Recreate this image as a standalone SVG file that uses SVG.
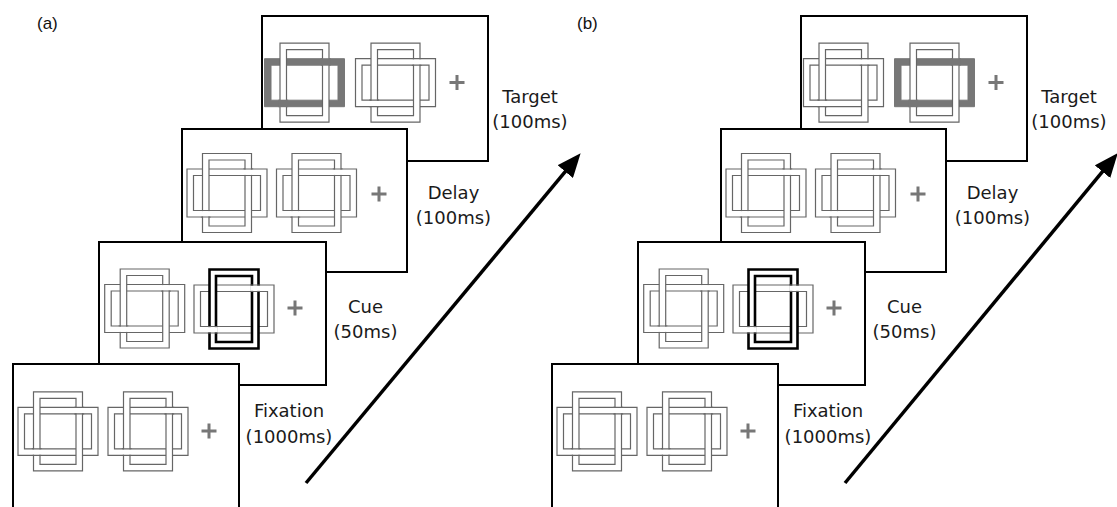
<svg xmlns="http://www.w3.org/2000/svg" xmlns:xlink="http://www.w3.org/1999/xlink" width="1117" height="507" viewBox="0 0 1117 507">
<style>
.frame{fill:#fff;stroke:#000;stroke-width:2}
.ring{fill:#fff;fill-rule:evenodd;stroke:#666;stroke-width:1.2}
.cring{fill:#fff;fill-rule:evenodd;stroke:#000;stroke-width:2.6}
.gring{fill:#777;fill-rule:evenodd;stroke:#777;stroke-width:1}
.ln{fill:none;stroke:#666;stroke-width:1.2}
.plus{fill:none;stroke:#777;stroke-width:3}
.lbl{font-family:"DejaVu Sans",sans-serif;font-size:18px;fill:#1a1a1a;text-anchor:middle}
.pl{font-family:"Liberation Sans",Arial,sans-serif;font-size:17px;fill:#111}
.arrow{stroke:#000;stroke-width:3.5;fill:none;marker-end:url(#ah)}
</style>
<defs>
<marker id="ah" viewBox="0 0 24 20" refX="11" refY="10" markerWidth="24" markerHeight="20" markerUnits="userSpaceOnUse" orient="auto">
<path d="M0,0L24,10L0,20Z" fill="#000"/>
</marker>
<path id="hb" d="M-40,-24H40V24H-40Z M-33.5,-17.5H33.5V17.5H-33.5Z"/>
<path id="vb" d="M-24.5,-39.5H24.5V39.5H-24.5Z M-18,-33H18V33H-18Z"/>
<g id="patch">
<rect x="16.3" y="-23.4" width="9.9" height="5.3" fill="#fff"/>
<rect x="-26.2" y="18.1" width="9.9" height="5.3" fill="#fff"/>
<path class="ln" d="M16.3,-24H26.2M16.3,-17.5H26.2M-26.2,17.5H-16.3M-26.2,24H-16.3"/>
</g>
<g id="cross">
<use xlink:href="#hb" class="ring"/>
<use xlink:href="#vb" class="ring"/>
<use xlink:href="#patch"/>
</g>
<g id="cueCross">
<use xlink:href="#hb" class="ring"/>
<use xlink:href="#vb" class="cring"/>
<use xlink:href="#patch"/>
</g>
<g id="tgtCross">
<use xlink:href="#hb" class="gring"/>
<use xlink:href="#vb" class="ring"/>
<rect x="16.3" y="-24.5" width="9.9" height="7.5" fill="#777"/>
<rect x="-26.2" y="17" width="9.9" height="7.5" fill="#777"/>
</g>
<path id="plus" class="plus" d="M-7.5,0H7.5M0,-7.5V7.5"/>
</defs>

<text class="pl" x="37" y="29">(a)</text>
<text class="pl" x="577" y="29">(b)</text>

<!-- Panel (a) -->
<g id="a-target">
<rect class="frame" x="262" y="16" width="226" height="145"/>
<use xlink:href="#tgtCross" x="304.5" y="82.7"/>
<use xlink:href="#cross" x="395.5" y="82.7"/>
<use xlink:href="#plus" x="457" y="82.5"/>
</g>
<g id="a-delay">
<rect class="frame" x="182" y="129" width="225" height="143"/>
<use xlink:href="#cross" x="227" y="193"/>
<use xlink:href="#cross" x="316.5" y="193"/>
<use xlink:href="#plus" x="379" y="194"/>
</g>
<g id="a-cue">
<rect class="frame" x="99" y="242" width="227" height="143"/>
<use xlink:href="#cross" x="144.7" y="308.5"/>
<use xlink:href="#cueCross" x="234" y="309"/>
<use xlink:href="#plus" x="295" y="308"/>
</g>
<g id="a-fixation">
<rect class="frame" x="13" y="364" width="226" height="160"/>
<use xlink:href="#cross" x="58" y="431.3"/>
<use xlink:href="#cross" x="148" y="431.3"/>
<use xlink:href="#plus" x="209" y="431"/>
</g>
<g id="a-labels">
<text class="lbl" x="530" y="103">Target</text>
<text class="lbl" x="530" y="128">(100ms)</text>
<text class="lbl" x="453.5" y="198.5">Delay</text>
<text class="lbl" x="453.5" y="223.5">(100ms)</text>
<text class="lbl" x="365.5" y="312.7">Cue</text>
<text class="lbl" x="365.5" y="338.3">(50ms)</text>
<text class="lbl" x="289" y="417.3">Fixation</text>
<text class="lbl" x="289" y="443">(1000ms)</text>
</g>

<!-- Panel (b) -->
<g id="b-target">
<rect class="frame" x="801" y="16" width="226" height="145"/>
<use xlink:href="#cross" x="843.5" y="82.7"/>
<use xlink:href="#tgtCross" x="934.5" y="82.7"/>
<use xlink:href="#plus" x="996" y="82.5"/>
</g>
<g id="b-delay">
<rect class="frame" x="721" y="129" width="225" height="143"/>
<use xlink:href="#cross" x="766" y="193"/>
<use xlink:href="#cross" x="855.5" y="193"/>
<use xlink:href="#plus" x="918" y="194"/>
</g>
<g id="b-cue">
<rect class="frame" x="638" y="242" width="227" height="143"/>
<use xlink:href="#cross" x="683.7" y="308.5"/>
<use xlink:href="#cueCross" x="773" y="309"/>
<use xlink:href="#plus" x="834" y="308"/>
</g>
<g id="b-fixation">
<rect class="frame" x="552" y="364" width="226" height="160"/>
<use xlink:href="#cross" x="597" y="431.3"/>
<use xlink:href="#cross" x="687" y="431.3"/>
<use xlink:href="#plus" x="748" y="431"/>
</g>
<g id="b-labels">
<text class="lbl" x="1069" y="103">Target</text>
<text class="lbl" x="1069" y="128">(100ms)</text>
<text class="lbl" x="992.5" y="198.5">Delay</text>
<text class="lbl" x="992.5" y="223.5">(100ms)</text>
<text class="lbl" x="904.5" y="312.7">Cue</text>
<text class="lbl" x="904.5" y="338.3">(50ms)</text>
<text class="lbl" x="828" y="417.3">Fixation</text>
<text class="lbl" x="828" y="443">(1000ms)</text>
</g>

<g id="connectors">
<line class="arrow" x1="306" y1="483" x2="572.3" y2="163.2"/>
<line class="arrow" x1="845" y1="483" x2="1109.5" y2="163.2"/>
</g>
</svg>
